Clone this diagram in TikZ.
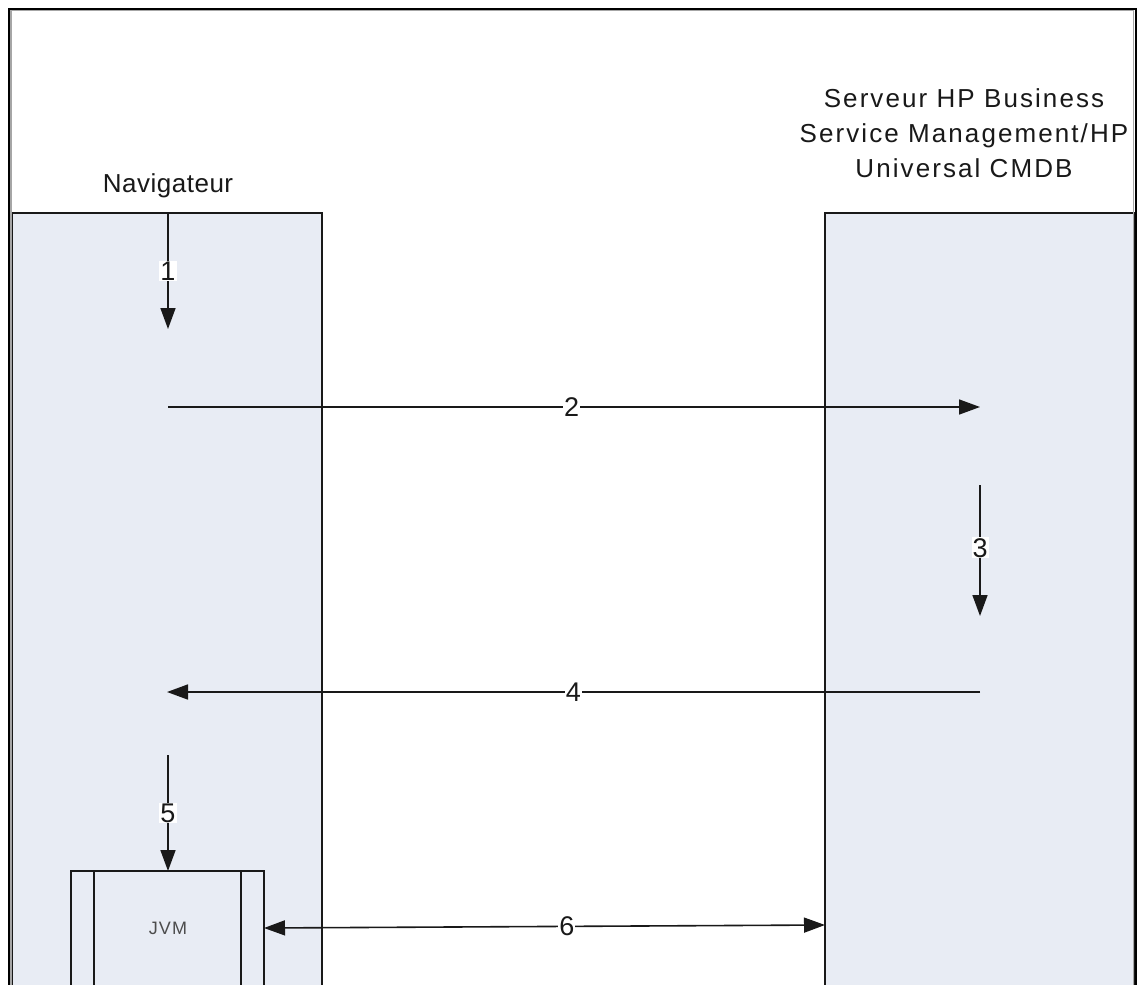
\documentclass[tikz,border=0pt]{standalone}
\usepackage{fontspec}
\setmainfont{Liberation Sans}
\usetikzlibrary{arrows.meta}
\definecolor{colfill}{RGB}{232,236,244}
\definecolor{inkc}{RGB}{25,25,25}
\begin{document}
\begin{tikzpicture}[x=1pt,y=-1pt,
  column/.style={draw=inkc, line width=1.4pt, fill=colfill},
  title/.style={text=inkc, font=\fontsize{26}{35}\selectfont\addfontfeature{LetterSpace=8}, align=center, inner sep=0pt},
  navtitle/.style={text=inkc, font=\fontsize{26}{35}\selectfont\addfontfeature{LetterSpace=2}, align=center, inner sep=0pt},
  lbl/.style={fill=white, text=inkc, inner sep=1pt, font=\fontsize{27}{30}\selectfont},
  arr/.style={draw=inkc, line width=1.6pt, -{Triangle[length=21pt,width=15pt]}},
  darr/.style={draw=inkc, line width=1.6pt, {Triangle[length=21pt,width=15pt]}-{Triangle[length=21pt,width=15pt]}},
  frameline/.style={line width=2pt, draw=black},
  frameshadow/.style={line width=1.5pt, draw=black!35}
]
\useasboundingbox (0,0) rectangle (1138,985);
\clip (0,0) rectangle (1138,985);
\fill[white] (0,0) rectangle (1138,985);

% columns
\path[column] (12,213) rectangle (322,1000);
\path[column] (825,213) rectangle (1134,1000);
\node[inner sep=0pt, minimum width=310pt, minimum height=787pt, anchor=north west] (nav) at (12,213) {};
\node[inner sep=0pt, minimum width=309pt, minimum height=787pt, anchor=north west] (srv) at (825,213) {};

% frame
\draw[frameshadow] (11,1000) -- (11,10.5) -- (1133.5,10.5) -- (1133.5,1000);
\draw[frameline] (8.5,1000) -- (8.5,8.5) -- (1136,8.5) -- (1136,1000);

% titles
\node[navtitle] (navlbl) at (168,186) {Navigateur};
\node[title] (srvlbl) at (964,133) {Serveur HP Business\\Service Management/HP\\Universal CMDB};

% JVM box
\path[column] (71,871) rectangle (264,1000);
\draw[inkc, line width=1.4pt] (94,871) -- (94,1000);
\draw[inkc, line width=1.4pt] (241,871) -- (241,1000);
\node[inner sep=0pt, minimum width=193pt, minimum height=129pt, anchor=north west] (jvm) at (71,871) {};
\node[text=black!70, font=\fontsize{18}{20}\selectfont\addfontfeature{LetterSpace=6}, inner sep=0pt] (jvmlbl) at (168,928) {JVM};

% connector end points
\coordinate (p1a) at (168,213);
\coordinate (p1b) at (168,329);
\coordinate (p2a) at (168,407);
\coordinate (p2b) at (980,407);
\coordinate (p3a) at (980,485);
\coordinate (p3b) at (980,616);
\coordinate (p4a) at (980,692);
\coordinate (p4b) at (167,692);
\coordinate (p5a) at (168,755);
\coordinate (p5b) at (168,871);
\coordinate (p6a) at (264,928);
\coordinate (p6b) at (825,925);

\draw[arr] (p1a) -- node[lbl] {1} (p1b);
\draw[arr] (p2a) -- node[lbl, pos=0.497] {2} (p2b);
\draw[arr] (p3a) -- node[lbl, pos=0.48] {3} (p3b);
\draw[arr] (p4a) -- node[lbl, pos=0.5] {4} (p4b);
\draw[arr] (p5a) -- node[lbl] {5} (p5b);
\draw[darr] (p6a) -- node[lbl, pos=0.54] {6} (p6b);
\end{tikzpicture}
\end{document}
